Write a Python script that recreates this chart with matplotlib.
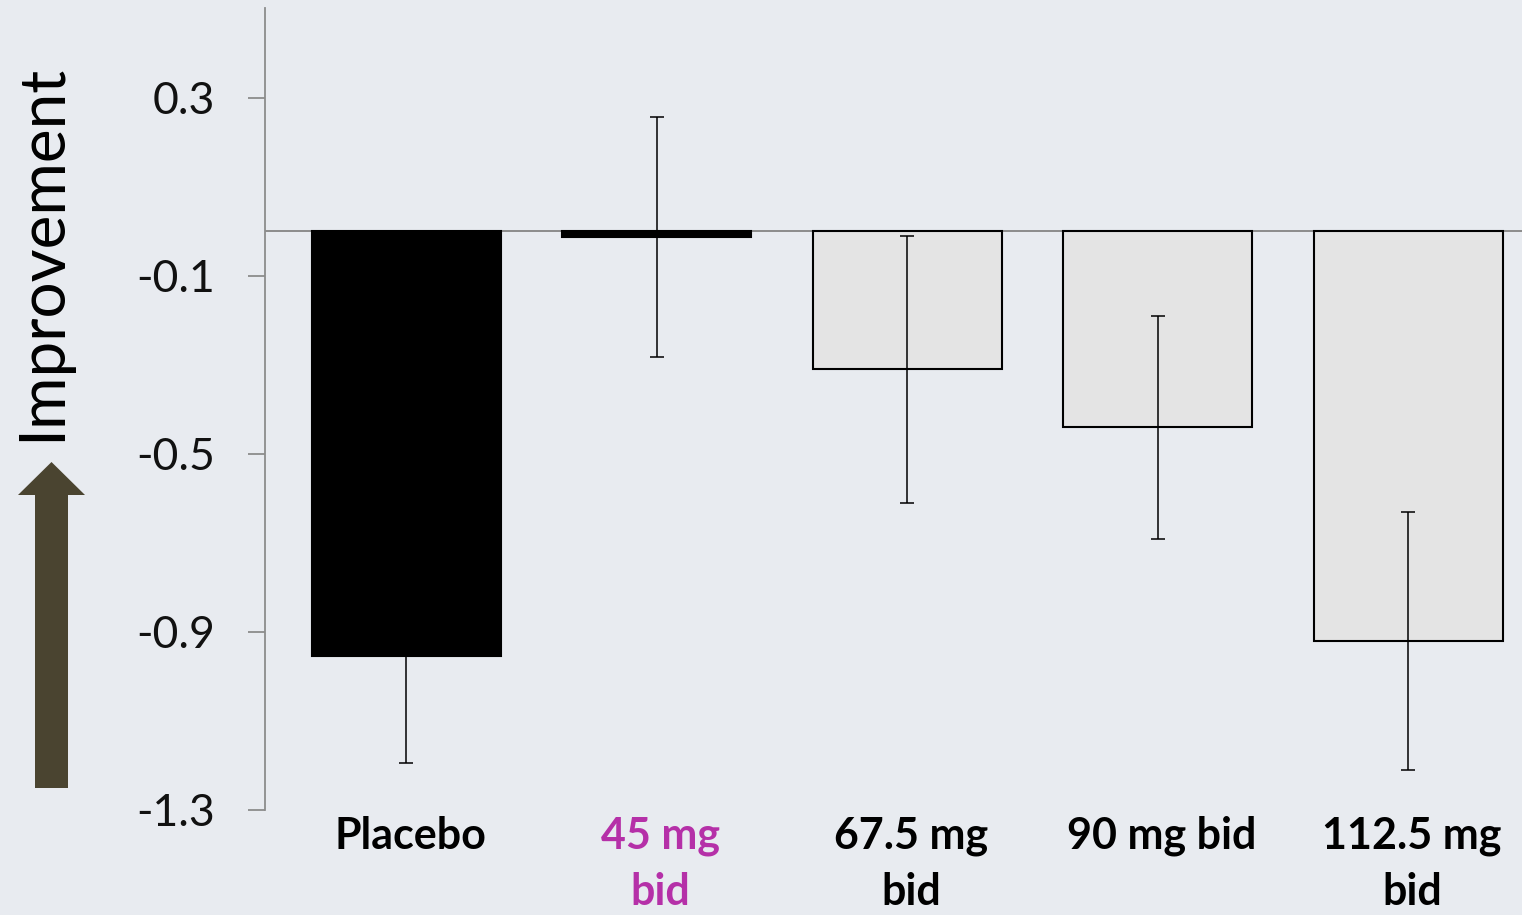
import matplotlib
matplotlib.use("Agg")
import matplotlib.pyplot as plt
from matplotlib.patches import Polygon
import numpy as np

# change from baseline by dose group
groups = ["Placebo", "45 mg\nbid", "67.5 mg\nbid", "90 mg bid", "112.5 mg\nbid"]
means = [-0.955, -0.012, -0.31, -0.44, -0.92]
errors = [0.24, 0.27, 0.30, 0.25, 0.29]
y_ticks = [0.3, -0.1, -0.5, -0.9, -1.3]

bg = "#E8EBF0"
fills = ["black", "black", "#E4E4E4", "#E4E4E4", "#E4E4E4"]
label_colors = ["black", "#B530A8", "black", "black", "black"]

W, H = 1522, 915
fig = plt.figure(figsize=(W / 100, H / 100), dpi=100, facecolor=bg)
ax = fig.add_axes([265 / W, (H - 810) / H, 1257 / W, 802 / H])
ax.set_facecolor(bg)

x = np.arange(len(groups))
ax.bar(x, means, width=0.755, color=fills, edgecolor="black", linewidth=1.5, zorder=2)
ax.errorbar(x, means, yerr=errors, fmt="none", ecolor="black", elinewidth=1.1,
            capsize=5, capthick=1.1, zorder=3)
ax.axhline(0, color="#8C8C8C", linewidth=1.4, zorder=1)

ax.set_xlim(-0.565, 4.455)
ax.set_ylim(-1.3, 0.502)
ax.set_yticks(y_ticks)
ax.set_yticklabels([f"{v:.1f}" for v in y_ticks], fontsize=32, family="Lato", color="#111111")
ax.tick_params(axis="y", length=12, width=1.3, color="#8C8C8C", pad=24)

ax.set_xticks(x + 0.015)
ax.set_xticklabels(groups, fontsize=31, family="Lato", fontweight="bold", va="top",
                   linespacing=1.5)
for lbl, c in zip(ax.get_xticklabels(), label_colors):
    lbl.set_color(c)
ax.tick_params(axis="x", length=0, pad=4)

for side in ["top", "right", "bottom"]:
    ax.spines[side].set_visible(False)
ax.spines["left"].set_color("#8C8C8C")
ax.spines["left"].set_linewidth(1.3)

# direction-of-improvement arrow and label
px = [(35, 788), (68, 788), (68, 495), (85, 495), (51.5, 462), (18, 495), (35, 495)]
arrow = Polygon([(a / W, 1 - b / H) for a, b in px], closed=True,
                transform=fig.transFigure, facecolor="#4A4430", edgecolor="none")
fig.patches.append(arrow)
fig.text(42 / W, 1 - 252 / H, "Improvement", rotation=90, ha="center", va="center",
         fontsize=46, family="Lato", color="black")

fig.savefig("out.png", dpi=100, facecolor=bg)
